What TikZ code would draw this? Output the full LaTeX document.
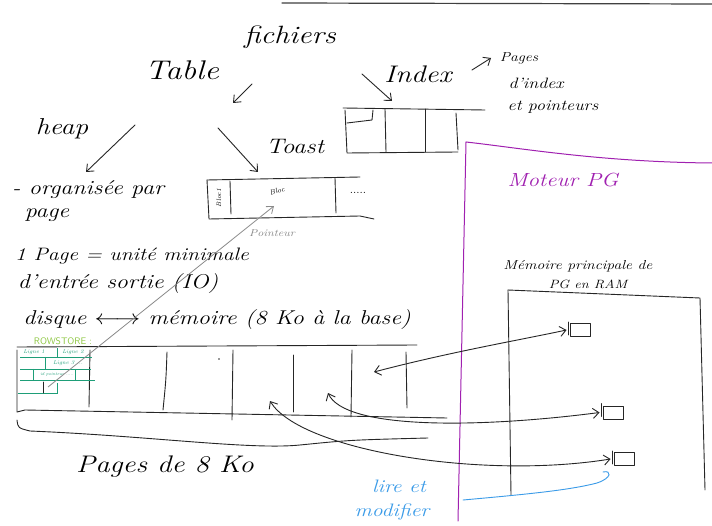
\documentclass[tikz,border=0pt]{standalone}
\usepackage{graphicx}
\usetikzlibrary{arrows.meta}
\definecolor{pgpurple}{HTML}{A020B0}
\definecolor{rowlime}{HTML}{8CC63F}
\definecolor{rowteal}{HTML}{1E9E78}
\definecolor{lireblue}{HTML}{3A9BE8}
\definecolor{ptrgray}{HTML}{8A8A8A}
\newcommand{\handtxt}[1]{\scalebox{1.2}[1]{\itshape #1}}
\begin{document}
\begin{tikzpicture}[x=1pt,y=-1pt,
  txt/.style={inner sep=0pt, anchor=center},
  fsz/.style={font=\fontsize{#1}{#1}\selectfont},
  ink/.style={draw=black!85, line width=0.9pt, line cap=round, line join=round},
  arr/.style={ink, -{Straight Barb[length=6pt,width=10pt]}},
  darr/.style={ink, {Straight Barb[length=6pt,width=10pt]}-{Straight Barb[length=6pt,width=10pt]}},
  rowline/.style={draw=rowteal, line width=0.6pt},
  rowtxt/.style={txt, text=rowteal, font=\fontsize{5.5}{6}\selectfont},
  purpline/.style={draw=pgpurple, line width=1pt, line cap=round},
  smallbox/.style={ink, minimum width=20pt, minimum height=13pt, inner sep=0pt}]
\useasboundingbox (0,0) rectangle (712,526);
\fill[white] (0,0) rectangle (712,526);

% top border line
\coordinate (tl1) at (282,3);
\coordinate (tl2) at (712,4);
\draw[ink, line width=1.2pt, black!75] (tl1) -- (tl2);

% ---- titles ----
\node[txt, fsz=25] (fichiers) at (290,37) {\handtxt{fichiers}};
\node[txt, fsz=27] (table) at (182,70) {\handtxt{Table}};
\node[txt, fsz=24] (index) at (418,74) {\handtxt{Index}};
\node[txt, fsz=13] (pages) at (519,58) {\handtxt{Pages}};
\node[txt, fsz=15] (dindex) at (536,83) {\handtxt{d'index}};
\node[txt, fsz=15] (etpoint) at (553,107) {\handtxt{et pointeurs}};
\node[txt, fsz=23] (heap) at (62,129) {\handtxt{heap}};
\node[txt, fsz=21] (toast) at (295,146) {\handtxt{Toast}};

\coordinate (fa1) at (252,84);
\coordinate (fa2) at (233,103);
\draw[arr] (fa1) -- (fa2);
\coordinate (ia1) at (472,70);
\coordinate (ia2) at (491,58);
\draw[arr] (ia1) -- (ia2);
\coordinate (ib1) at (362,74);
\coordinate (ib2) at (392,101);
\draw[arr] (ib1) -- (ib2);
\coordinate (ha1) at (135,125);
\coordinate (ha2) at (86,172);
\draw[arr] (ha1) -- (ha2);
\coordinate (ta1) at (218,128);
\coordinate (ta2) at (258,172);
\draw[arr] (ta1) -- (ta2);

% ---- index box ----
\draw[ink] (343,108) -- (485,110);
\draw[ink] (345,110) -- (347,153) -- (458,152);
\draw[ink] (385,109) -- (386,152);
\draw[ink] (425,109) -- (425,152);
\draw[ink] (456,113) -- (458,150);
\draw[ink] (347,123) -- (372,120) -- (373,110);

% ---- toast box ----
\draw[ink] (207,180) -- (360,177);
\draw[ink] (207,180) -- (209,219) -- (360,216) -- (374,219);
\draw[ink] (230,181) -- (231,214);
\draw[ink] (335,178) -- (336,213);
\node[txt, fsz=6.5, rotate=90] (bloca) at (219,198) {\textit{Bloc1}};
\node[txt, fsz=7, rotate=18] (blocb) at (277,191) {\textit{Bloc}};
\node[txt, fsz=12] (dots) at (358,193) {.....};
\node[txt, fsz=10, text=ptrgray] (pointeur) at (272,233) {\handtxt{Pointeur}};

% ---- heap text ----
\node[txt, fsz=20] (orgpar) at (88,190) {\handtxt{- organisée par}};
\node[txt, fsz=20] (page) at (47,215) {\handtxt{page}};
\node[txt, fsz=18] (unite) at (132,256) {\handtxt{1 Page = unité minimale}};
\node[txt, fsz=20] (entree) at (118,284) {\handtxt{d'entrée sortie (IO)}};
\node[txt, fsz=20] (disque) at (217,320) {\handtxt{disque $\longleftrightarrow$ mémoire (8 Ko à la base)}};

% ---- row store strip ----
\node[txt, text=rowlime, font=\fontsize{9.5}{9.5}\sffamily] (rowstore) at (63,341) {ROWSTORE :};
\draw[ink] (17,347) -- (417,345);
\draw[ink] (17,350) -- (17,412) -- (25,410) -- (447,418);
\draw[ink] (90,350) -- (89,407);
\draw[ink] (167,352) .. controls (166,380) .. (163,410);
\draw[ink] (233,350) -- (232,420);
\draw[ink] (293,355) -- (293,412);
\draw[ink] (352,350) -- (351,417);
\draw[ink] (406,352) -- (407,408);
\fill[black!80] (219,359) circle (0.8);
% brace
\draw[ink] (17,420) .. controls (18,428) .. (30,431) .. controls (150,436) and (250,450) .. (300,445) .. controls (350,440) .. (428,438);

% row store inner layout
\draw[rowline] (20,357) -- (92,357);
\draw[rowline] (57,348) -- (57,357);
\draw[rowline] (20,369) -- (91,369);
\draw[rowline] (45,357) -- (45,369);
\draw[rowline] (20,380) -- (95,380);
\draw[rowline] (33,369) -- (33,380);
\draw[rowline] (75,369) -- (75,380);
\draw[rowline] (18,393) -- (57,393) -- (57,383);
\draw[ink, line width=0.8pt] (43,382) -- (43,393);
\node[rowtxt] (l1) at (34,352.5) {\textit{Ligne 1}};
\node[rowtxt] (l2) at (73,352.5) {\textit{Ligne 2}};
\node[rowtxt] (l3) at (68,363.5) {\textit{Ligne 3 ...}};
\node[rowtxt, font=\fontsize{4.2}{5}\selectfont] (lid) at (57,374.5) {\textit{id pointeur .....}};

% pointer from row store to toast bloc
\coordinate (ptrstart) at (48,387);
\coordinate (ptrend) at (274,206);
\draw[draw=ptrgray, line width=0.8pt, -{Straight Barb[length=6pt,width=9pt]}] (ptrstart) -- (ptrend);

\node[txt, fsz=24] (pagesko) at (165,467) {\handtxt{Pages de 8 Ko}};

% ---- Moteur PG ----
\draw[purpline] (466,142) .. controls (520,148) and (600,162) .. (712,163);
\draw[purpline] (466,142) -- (458,521);
\node[txt, fsz=19, text=pgpurple] (moteur) at (563,180) {\handtxt{Moteur PG}};

\node[txt, fsz=13] (mempr) at (578,266) {\handtxt{Mémoire principale de}};
\node[txt, fsz=12] (pgram) at (588,284) {\handtxt{PG en RAM}};

% RAM box
\draw[ink] (508,290) -- (700,298) -- (705,490);
\draw[ink] (508,290) -- (511,495);

\node[smallbox] (box1) at (580,330) {};
\node[smallbox] (box2) at (613,412.5) {};
\node[smallbox] (box3) at (624,459) {};
\draw[ink] ([xshift=-1pt,yshift=2pt]box2.north west) -- ([xshift=-1pt,yshift=3pt]box2.south west);
\draw[ink] ([xshift=-1pt,yshift=1pt]box1.north west) -- ([xshift=-1pt,yshift=2pt]box1.south west);
\draw[ink] ([xshift=-1pt,yshift=1pt]box3.north west) -- ([xshift=-1pt,yshift=2pt]box3.south west);

\coordinate (c1) at (374,372);
\coordinate (c2) at (328,393);
\coordinate (c3) at (270,401);
\draw[darr] (c1) .. controls (450,352) and (520,340) .. ([xshift=-3pt]box1.west);
\draw[darr] (c2) .. controls (345,430) and (480,428) .. ([xshift=-3pt]box2.west);
\draw[darr] (c3) .. controls (300,450) and (480,480) .. ([xshift=-3pt]box3.west);

% lire et modifier
\coordinate (bl1) at (463,500);
\coordinate (bl2) at (603,472);
\draw[draw=lireblue, line width=0.9pt, line cap=round] (bl1) .. controls (530,494) and (570,490) .. (597,483) .. controls (612,478) and (612,470) .. (bl2);
\node[txt, fsz=18, text=lireblue] (lire) at (399,486) {\handtxt{lire et}};
\node[txt, fsz=18, text=lireblue] (modif) at (392,512) {\handtxt{modifier}};
\end{tikzpicture}
\end{document}
